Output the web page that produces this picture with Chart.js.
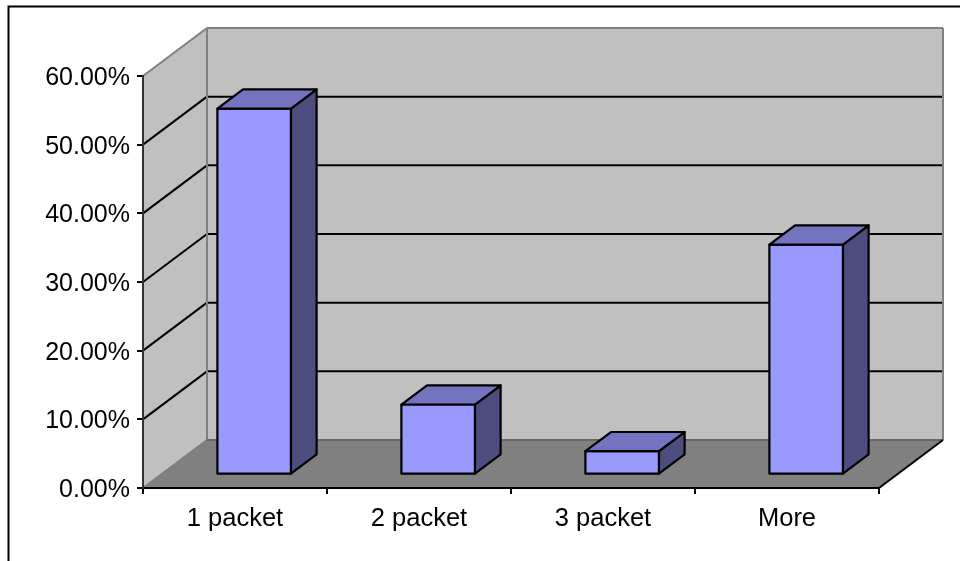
<!DOCTYPE html>
<html>
<head>
<meta charset="utf-8">
<title>Packets</title>
<script src="https://cdn.jsdelivr.net/npm/chart.js@4/dist/chart.umd.min.js"></script>
<style>
    html, body { margin: 0; padding: 0; background: #fff; overflow: hidden; }
    canvas { display: block; }
</style>
</head>
<body>
<canvas id="packets" width="960" height="561"></canvas>
<script>
const categories = ['1 packet', '2 packet', '3 packet', 'More'];
const shares = [53.3, 10.2, 3.4, 33.5];
const yTickLabels = ['0.00%', '10.00%', '20.00%', '30.00%', '40.00%', '50.00%', '60.00%'];

// depth of the box behind the plot area, in pixels
const boxDepth = { x: 64, y: -48 };
// where the bars sit inside that depth
const barFront = { x: 0.3, y: 0.28 };
const barDepth = 0.4;

function line(ctx, x1, y1, x2, y2, color) {
    ctx.strokeStyle = color;
    ctx.beginPath();
    ctx.moveTo(x1, y1);
    ctx.lineTo(x2, y2);
    ctx.stroke();
}

function face(ctx, points, fill) {
    ctx.fillStyle = fill;
    ctx.beginPath();
    points.forEach(function (p, i) {
        if (i === 0) ctx.moveTo(p[0], p[1]);
        else ctx.lineTo(p[0], p[1]);
    });
    ctx.closePath();
    ctx.fill();
    ctx.stroke();
}

// frame around the chart, walls and floor of the box
const boxPlugin = {
    id: 'box',
    beforeDraw: function (chart) {
        const ctx = chart.ctx;
        const area = chart.chartArea;
        const dx = boxDepth.x, dy = boxDepth.y;

        // value labels sit a little below their ticks
        chart.scales.y.getLabelItems(area).forEach(function (item) {
            if (!item.nudged) {
                item.options.translation[1] += 2;
                item.nudged = true;
            }
        });

        ctx.save();
        ctx.lineWidth = 2;
        ctx.strokeStyle = '#000';
        ctx.beginPath();
        ctx.moveTo(8.5, 561);
        ctx.lineTo(8.5, 6.5);
        ctx.lineTo(960, 6.5);
        ctx.stroke();

        ctx.fillStyle = '#c0c0c0';
        ctx.fillRect(area.left + dx, area.top + dy, area.width, area.height);
        ctx.beginPath();
        ctx.moveTo(area.left, area.top);
        ctx.lineTo(area.left + dx, area.top + dy);
        ctx.lineTo(area.left + dx, area.bottom + dy);
        ctx.lineTo(area.left, area.bottom);
        ctx.closePath();
        ctx.fill();

        ctx.fillStyle = '#808080';
        ctx.beginPath();
        ctx.moveTo(area.left, area.bottom);
        ctx.lineTo(area.left + dx, area.bottom + dy);
        ctx.lineTo(area.right + dx, area.bottom + dy);
        ctx.lineTo(area.right, area.bottom);
        ctx.closePath();
        ctx.fill();

        // gridlines run along the left wall and across the back wall
        const yScale = chart.scales.y;
        yScale.ticks.forEach(function (tick) {
            const y = yScale.getPixelForValue(tick.value);
            if (tick.value === 0 || tick.value === yScale.max) return;
            line(ctx, area.left, y, area.left + dx, y + dy, '#000');
            line(ctx, area.left + dx, y + dy, area.right + dx, y + dy, '#000');
        });

        // wall edges
        line(ctx, area.left, area.top, area.left + dx, area.top + dy, '#808080');
        line(ctx, area.left + dx, area.top + dy, area.right + dx, area.top + dy, '#808080');
        line(ctx, area.right + dx, area.top + dy, area.right + dx, area.bottom + dy, '#808080');
        line(ctx, area.left + dx, area.top + dy, area.left + dx, area.bottom + dy, '#808080');
        line(ctx, area.left, area.bottom, area.left + dx, area.bottom + dy, '#808080');
        line(ctx, area.left + dx, area.bottom + dy, area.right + dx, area.bottom + dy, '#666');
        line(ctx, area.right, area.bottom, area.right + dx, area.bottom + dy, '#000');
        ctx.restore();
    },
    // the dataset is drawn pushed back into the box, outline, sides and top follow
    beforeDatasetDraw: function (chart) {
        chart.ctx.save();
        chart.ctx.translate(boxDepth.x * barFront.x, boxDepth.y * barFront.y);
    },
    afterDatasetDraw: function (chart, args) {
        const ctx = chart.ctx;
        const dx = boxDepth.x * barDepth, dy = boxDepth.y * barDepth;
        ctx.lineWidth = 2.2;
        ctx.lineJoin = 'round';
        ctx.strokeStyle = '#000';
        args.meta.data.forEach(function (bar) {
            const left = bar.x - bar.width / 2;
            const right = bar.x + bar.width / 2;
            ctx.strokeRect(left, bar.y, bar.width, bar.base - bar.y);
            face(ctx, [[right, bar.y], [right + dx, bar.y + dy], [right + dx, bar.base + dy], [right, bar.base]], '#4d4d80');
            face(ctx, [[left, bar.y], [left + dx, bar.y + dy], [right + dx, bar.y + dy], [right, bar.y]], '#7373bf');
        });
        ctx.restore();
    }
};

const packetChart = new Chart(document.getElementById('packets').getContext('2d'), {
    type: 'bar',
    plugins: [boxPlugin],
    data: {
        labels: categories,
        datasets: [{
            data: shares,
            backgroundColor: '#9999ff',
            borderWidth: 0,
            barPercentage: 0.4,
            categoryPercentage: 1,
            clip: false
        }]
    },
    options: {
        responsive: false,
        animation: false,
        layout: { padding: { top: 76, right: 81, left: 0, bottom: 0 } },
        plugins: { legend: { display: false }, tooltip: { enabled: false } },
        scales: {
            x: {
                afterFit: function (scale) { scale.height = 73; },
                grid: { drawOnChartArea: false, color: '#000', lineWidth: 2, tickLength: 6 },
                border: { color: '#000', width: 2 },
                ticks: {
                    color: '#000',
                    padding: 10,
                    maxRotation: 0,
                    font: { family: '"Liberation Sans"', size: 25.5 }
                }
            },
            y: {
                min: 0,
                max: 60,
                afterFit: function (scale) { scale.width = 143; },
                grid: { drawOnChartArea: false, color: '#000', lineWidth: 2, tickLength: 6 },
                border: { color: '#333', width: 2 },
                ticks: {
                    stepSize: 10,
                    color: '#000',
                    padding: 7,
                    font: { family: '"Liberation Sans"', size: 25 },
                    callback: function (value, index) { return yTickLabels[index]; }
                }
            }
        }
    }
});
</script>
</body>
</html>
